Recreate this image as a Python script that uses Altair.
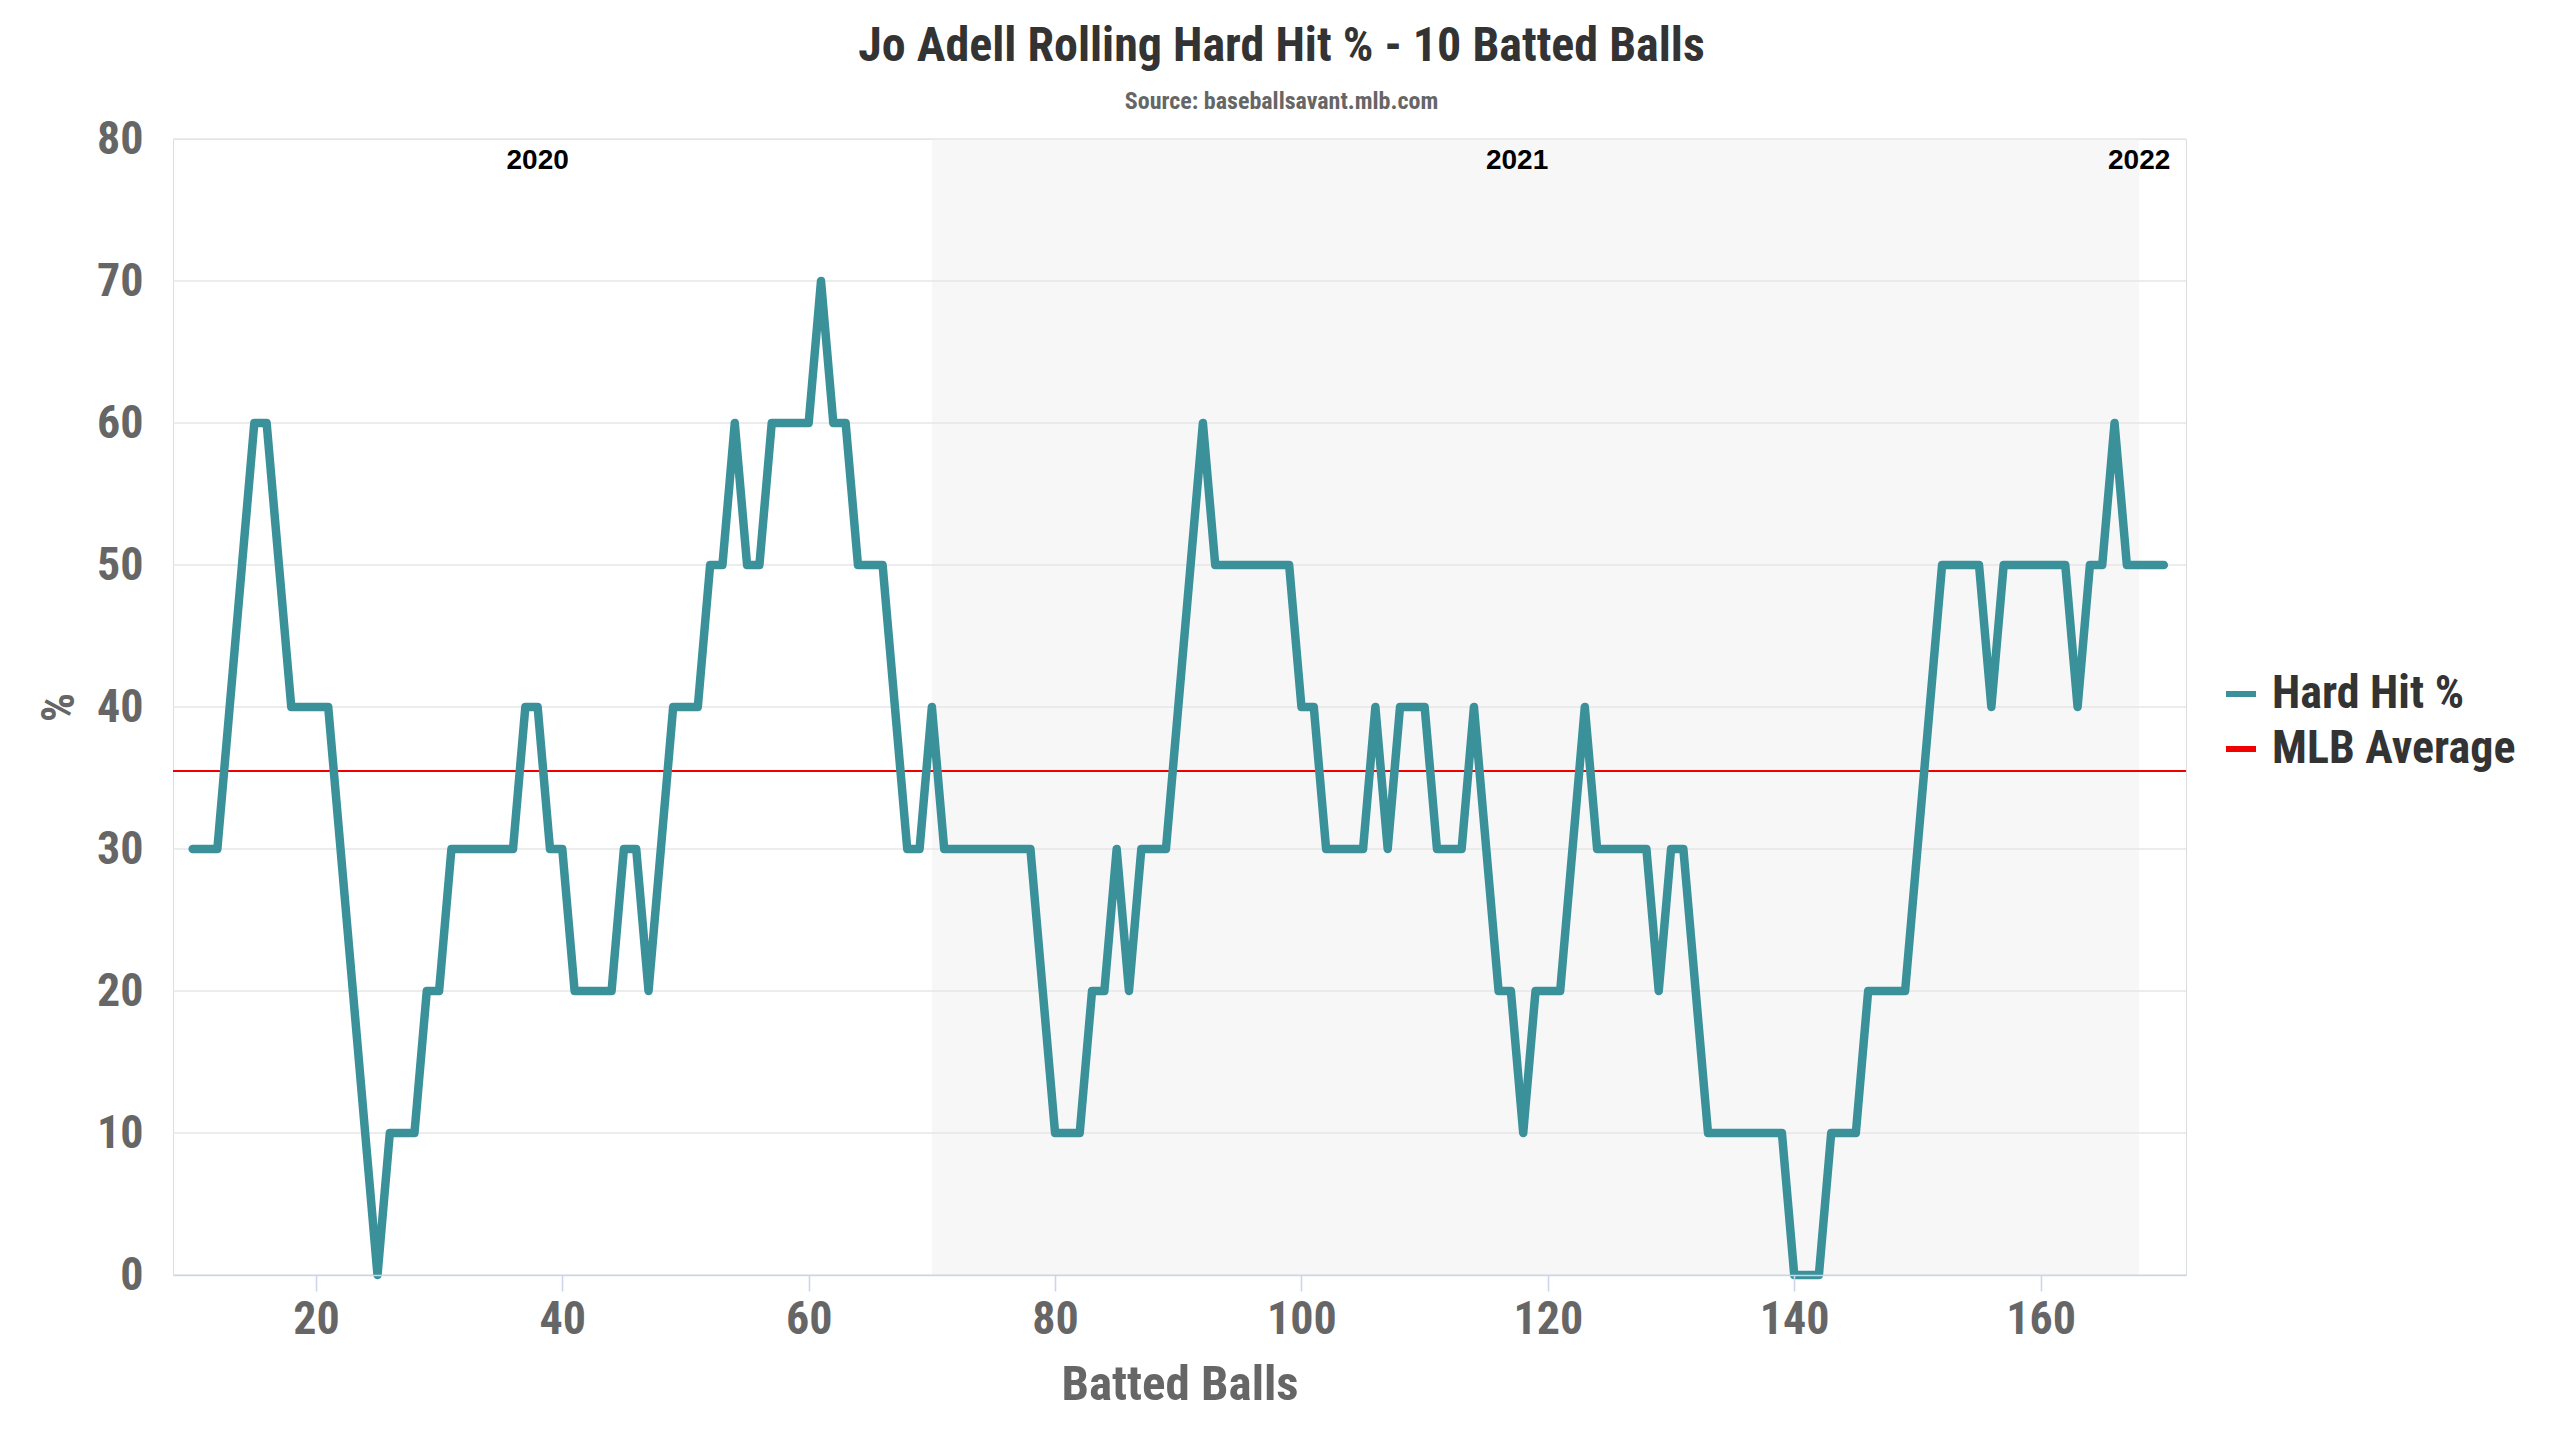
import altair as alt
import pandas as pd

# ---- data ----
batted_balls = list(range(10, 171))
hard_hit_pct = [
    30, 30, 30, 40, 50, 60, 60, 50, 40, 40,   # 10-19
    40, 40, 30, 20, 10, 0, 10, 10, 10, 20,    # 20-29
    20, 30, 30, 30, 30, 30, 30, 40, 40, 30,   # 30-39
    30, 20, 20, 20, 20, 30, 30, 20, 30, 40,   # 40-49
    40, 40, 50, 50, 60, 50, 50, 60, 60, 60,   # 50-59
    60, 70, 60, 60, 50, 50, 50, 40, 30, 30,   # 60-69
    40, 30, 30, 30, 30, 30, 30, 30, 30, 20,   # 70-79
    10, 10, 10, 20, 20, 30, 20, 30, 30, 30,   # 80-89
    40, 50, 60, 50, 50, 50, 50, 50, 50, 50,   # 90-99
    40, 40, 30, 30, 30, 30, 40, 30, 40, 40,   # 100-109
    40, 30, 30, 30, 40, 30, 20, 20, 10, 20,   # 110-119
    20, 20, 30, 40, 30, 30, 30, 30, 30, 20,   # 120-129
    30, 30, 20, 10, 10, 10, 10, 10, 10, 10,   # 130-139
    0, 0, 0, 10, 10, 10, 20, 20, 20, 20,      # 140-149
    30, 40, 50, 50, 50, 50, 40, 50, 50, 50,   # 150-159
    50, 50, 50, 40, 50, 50, 60, 50, 50, 50,   # 160-169
    50,                                       # 170
]
mlb_average = 35.5
season_labels = ["2020", "2021", "2022"]
season_label_x = [38, 117.5, 168]
band_start = [70]
band_end = [168]
y_ticks = [0, 10, 20, 30, 40, 50, 60, 70, 80]
x_ticks = [20, 40, 60, 80, 100, 120, 140, 160]
series_names = ["Hard Hit %", "MLB Average"]
series_colors = ["#3a9199", "#f00000"]

FONT = "Roboto Condensed, Liberation Sans Narrow, DejaVu Sans Condensed, sans-serif"

line_df = pd.DataFrame({"x": batted_balls, "y": hard_hit_pct, "series": series_names[0]})
avg_df = pd.DataFrame({"y": [mlb_average], "series": [series_names[1]]})
band_df = pd.DataFrame({"x": band_start, "x2": band_end})
label_df = pd.DataFrame({"x": season_label_x, "label": season_labels, "y": [80] * len(season_labels)})
grid_df = pd.DataFrame({"y": y_ticks})

xscale = alt.Scale(domain=[8.4, 171.8], nice=False, zero=False)
yscale = alt.Scale(domain=[0, 80], nice=False)
color_scale = alt.Scale(domain=series_names, range=series_colors)

legend = alt.Legend(
    title=None, orient="none", legendX=2045, legendY=532,
    symbolType="stroke", symbolStrokeWidth=6, symbolSize=900,
    labelFont=FONT, labelFontSize=46, labelFontWeight="bold", labelColor="#333333",
    labelOffset=8, labelLimit=500, rowPadding=9, padding=0,
)

x_axis = alt.Axis(
    values=x_ticks, title="Batted Balls", grid=False,
    labelFont=FONT, labelFontSize=46, labelFontWeight="bold", labelColor="#666666",
    titleFont=FONT, titleFontSize=49, titleFontWeight="bold", titleColor="#666666",
    tickColor="#ccd6eb", tickSize=16, tickWidth=1.6,
    domainColor="#ccd6eb", domainWidth=1.6,
    labelPadding=6, titlePadding=18, zindex=1,
)
y_axis = alt.Axis(
    values=y_ticks, title="%", grid=False, ticks=False, domain=False,
    labelFont=FONT, labelFontSize=46, labelFontWeight="bold", labelColor="#666666",
    labelPadding=30,
    titleFont=FONT, titleFontSize=46, titleFontWeight="bold", titleColor="#666666",
    titlePadding=13,
)

band = alt.Chart(band_df).mark_rect(color="#f7f7f8").encode(
    x=alt.X("x:Q", scale=xscale, axis=x_axis),
    x2="x2:Q",
)

grid = alt.Chart(grid_df).mark_rule(color="#e6e6e6", strokeWidth=1.6).encode(
    y=alt.Y("y:Q", scale=yscale, axis=y_axis),
)

avg_rule = alt.Chart(avg_df).mark_rule(strokeWidth=2).encode(
    y=alt.Y("y:Q", scale=yscale),
    color=alt.Color("series:N", scale=color_scale, legend=legend),
)

line = alt.Chart(line_df).mark_line(strokeWidth=8.5, strokeJoin="round", strokeCap="round").encode(
    x=alt.X("x:Q", scale=xscale),
    y=alt.Y("y:Q", scale=yscale),
    color=alt.Color("series:N", scale=color_scale, legend=legend),
)

labels = alt.Chart(label_df).mark_text(
    font="Liberation Sans, Arial, sans-serif", fontWeight="bold", fontSize=28,
    color="#000000", baseline="middle", align="center", dy=21.5,
).encode(
    x=alt.X("x:Q", scale=xscale),
    y=alt.Y("y:Q", scale=yscale),
    text="label:N",
)

chart = alt.layer(band, grid, avg_rule, line, labels).properties(
    width=2013,
    height=1136,
    padding={"left": 165, "top": 131, "right": 360, "bottom": 150},
    autosize=alt.AutoSizeParams(type="none"),
    title=alt.Title(
        text="Jo Adell Rolling Hard Hit % - 10 Batted Balls",
        subtitle="Source: baseballsavant.mlb.com",
        font=FONT, fontSize=48, fontWeight="bold", color="#333333",
        subtitleFont=FONT, subtitleFontSize=24, subtitleFontWeight="bold", subtitleColor="#666666",
        anchor="middle", dx=102, offset=2, subtitlePadding=19,
    ),
).configure_view(stroke=None).configure(background="white")

chart.save("out.html", embed_options={"renderer": "svg", "actions": False})
